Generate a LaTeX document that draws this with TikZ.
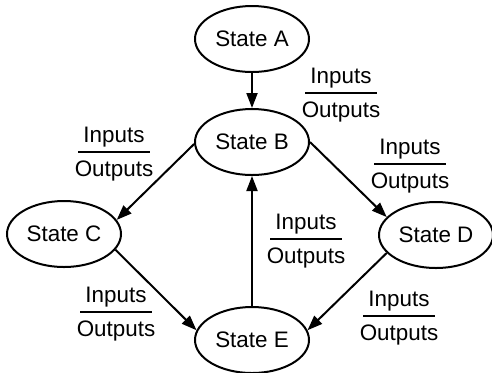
\documentclass[tikz,border=0pt]{standalone}
\usepackage{fontspec}
\setmainfont{Liberation Sans}
\usetikzlibrary{arrows.meta, shapes.geometric}

\tikzset{
	state/.style={draw, ellipse, line width=1pt, inner sep=0pt, minimum width=57pt, minimum height=33pt, font=\fontsize{11.2}{13}\selectfont},
	iotext/.style={inner sep=0pt, anchor=base, font=\fontsize{11.2}{13}\selectfont},
	trans/.style={line width=1pt, -{Triangle[length=7.5pt, width=5.5pt]}},
	bar/.style={line width=1pt},
}

% label name, x and y of the bar
\newcommand{\io}[3]{%
	\node[iotext] (#1 in)  at (#2, #3-10) {Inputs};
	\node[iotext] (#1 out) at (#2, #3+24) {Outputs};
	\draw[bar] (#2-36, #3) -- (#2+36, #3);
}

\begin{document}
\begin{tikzpicture}[x=0.5pt, y=-0.5pt]

\useasboundingbox (0,0) rectangle (492,372);

% states
\node[state] (A) at (252, 39) {State A};
\node[state] (B) at (252,142) {State B};
\node[state] (C) at ( 64,234) {State C};
\node[state] (D) at (436,235) {State D};
\node[state] (E) at (252,340) {State E};

% transitions
\draw[trans] (A) -- (B);
\draw[trans] (B.182) -- (C.15);
\draw[trans] (B.east) -- (D.160);
\draw[trans] (C.343) -- (E.170);
\draw[trans] (D.200) -- (E.10);
\draw[trans] (E) -- (B);

% transition labels
\io{ab}{341}{93}
\io{bc}{114}{152}
\io{bd}{410}{164}
\io{eb}{306}{239}
\io{ce}{116}{312}
\io{de}{399}{316}

\end{tikzpicture}
\end{document}
